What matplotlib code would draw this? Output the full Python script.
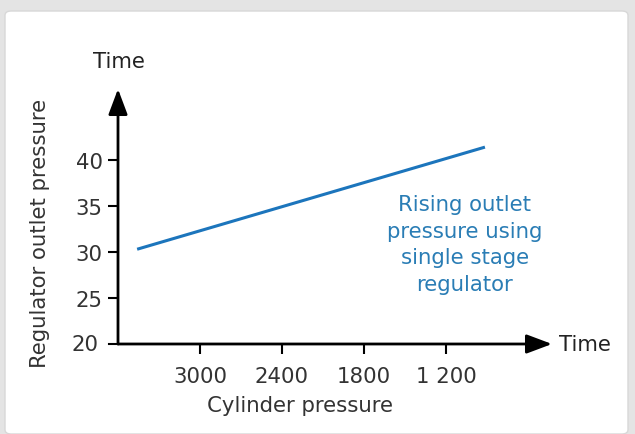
import matplotlib.pyplot as plt
from matplotlib.patches import FancyBboxPatch

# data
cyl_ticks = [3000, 2400, 1800, 1200]
out_ticks = [20, 25, 30, 35, 40]
cyl_pressure = [3460, 915]
outlet_pressure = [30.3, 41.4]

plt.rcParams['font.family'] = ['DejaVu Sans']
txt = '#333333'
fs = 15.3

fig = plt.figure(figsize=(6.35, 4.35), dpi=100, facecolor='#e4e4e4')
panel = FancyBboxPatch((5 / 635, 0), 623 / 635, 423 / 435,
                       boxstyle='round,pad=0,rounding_size=0.01',
                       transform=fig.transFigure, facecolor='white',
                       edgecolor='#d8d8d8', lw=1, zorder=-5)
fig.patches.append(panel)

ax = fig.add_axes([118 / 635, 90 / 435, 434 / 635, 255 / 435])
ax.patch.set_alpha(0)
for s in ax.spines.values():
    s.set_visible(False)

ax.set_xlim(3600, 3600 - 434 / 82 * 600)
ax.set_ylim(20, 20 + 255 / 46 * 5)

ax.plot(cyl_pressure, outlet_pressure, color='#1c75bc', lw=2.2, solid_capstyle='butt')

# axis arrows
ap = dict(arrowstyle='-|>,head_length=1.2,head_width=0.45', color='black', lw=2,
          mutation_scale=13, shrinkA=0, shrinkB=0)
ax.annotate('', xy=(0, 1.0), xytext=(0, 0), xycoords='axes fraction', arrowprops=ap)
ax.annotate('', xy=(1.0, 0), xytext=(0, 0), xycoords='axes fraction', arrowprops=ap)

ax.set_xticks(cyl_ticks)
ax.set_xticklabels(['3000', '2400', '1800', '1 200'])
ax.set_yticks(out_ticks[1:])
ax.tick_params(axis='both', colors='black', labelcolor=txt, labelsize=fs,
               length=7, width=1.5, pad=4)
ax.tick_params(axis='x', pad=9)
ax.text(-0.045, 0, '20', transform=ax.transAxes, ha='right', va='center',
        fontsize=fs, color=txt)
ax.plot([-0.02, 0], [0, 0], transform=ax.transAxes, color='black', lw=1.5, clip_on=False)

fig.text(300 / 635, 1 - 406 / 435, 'Cylinder pressure', ha='center', va='center',
         fontsize=fs, color=txt)
fig.text(40 / 635, 1 - 233 / 435, 'Regulator outlet pressure', ha='center', va='center',
         rotation=90, fontsize=fs, color=txt)
fig.text(119 / 635, 1 - 62 / 435, 'Time', ha='center', va='center', fontsize=fs, color='#222222')
fig.text(585 / 635, 1 - 345 / 435, 'Time', ha='center', va='center', fontsize=fs, color='#222222')
fig.text(465 / 635, 1 - 245 / 435, 'Rising outlet\npressure using\nsingle stage\nregulator',
         ha='center', va='center', fontsize=fs, color='#2a7db5', linespacing=1.4)

fig.savefig('out.png', dpi=100, facecolor=fig.get_facecolor())
